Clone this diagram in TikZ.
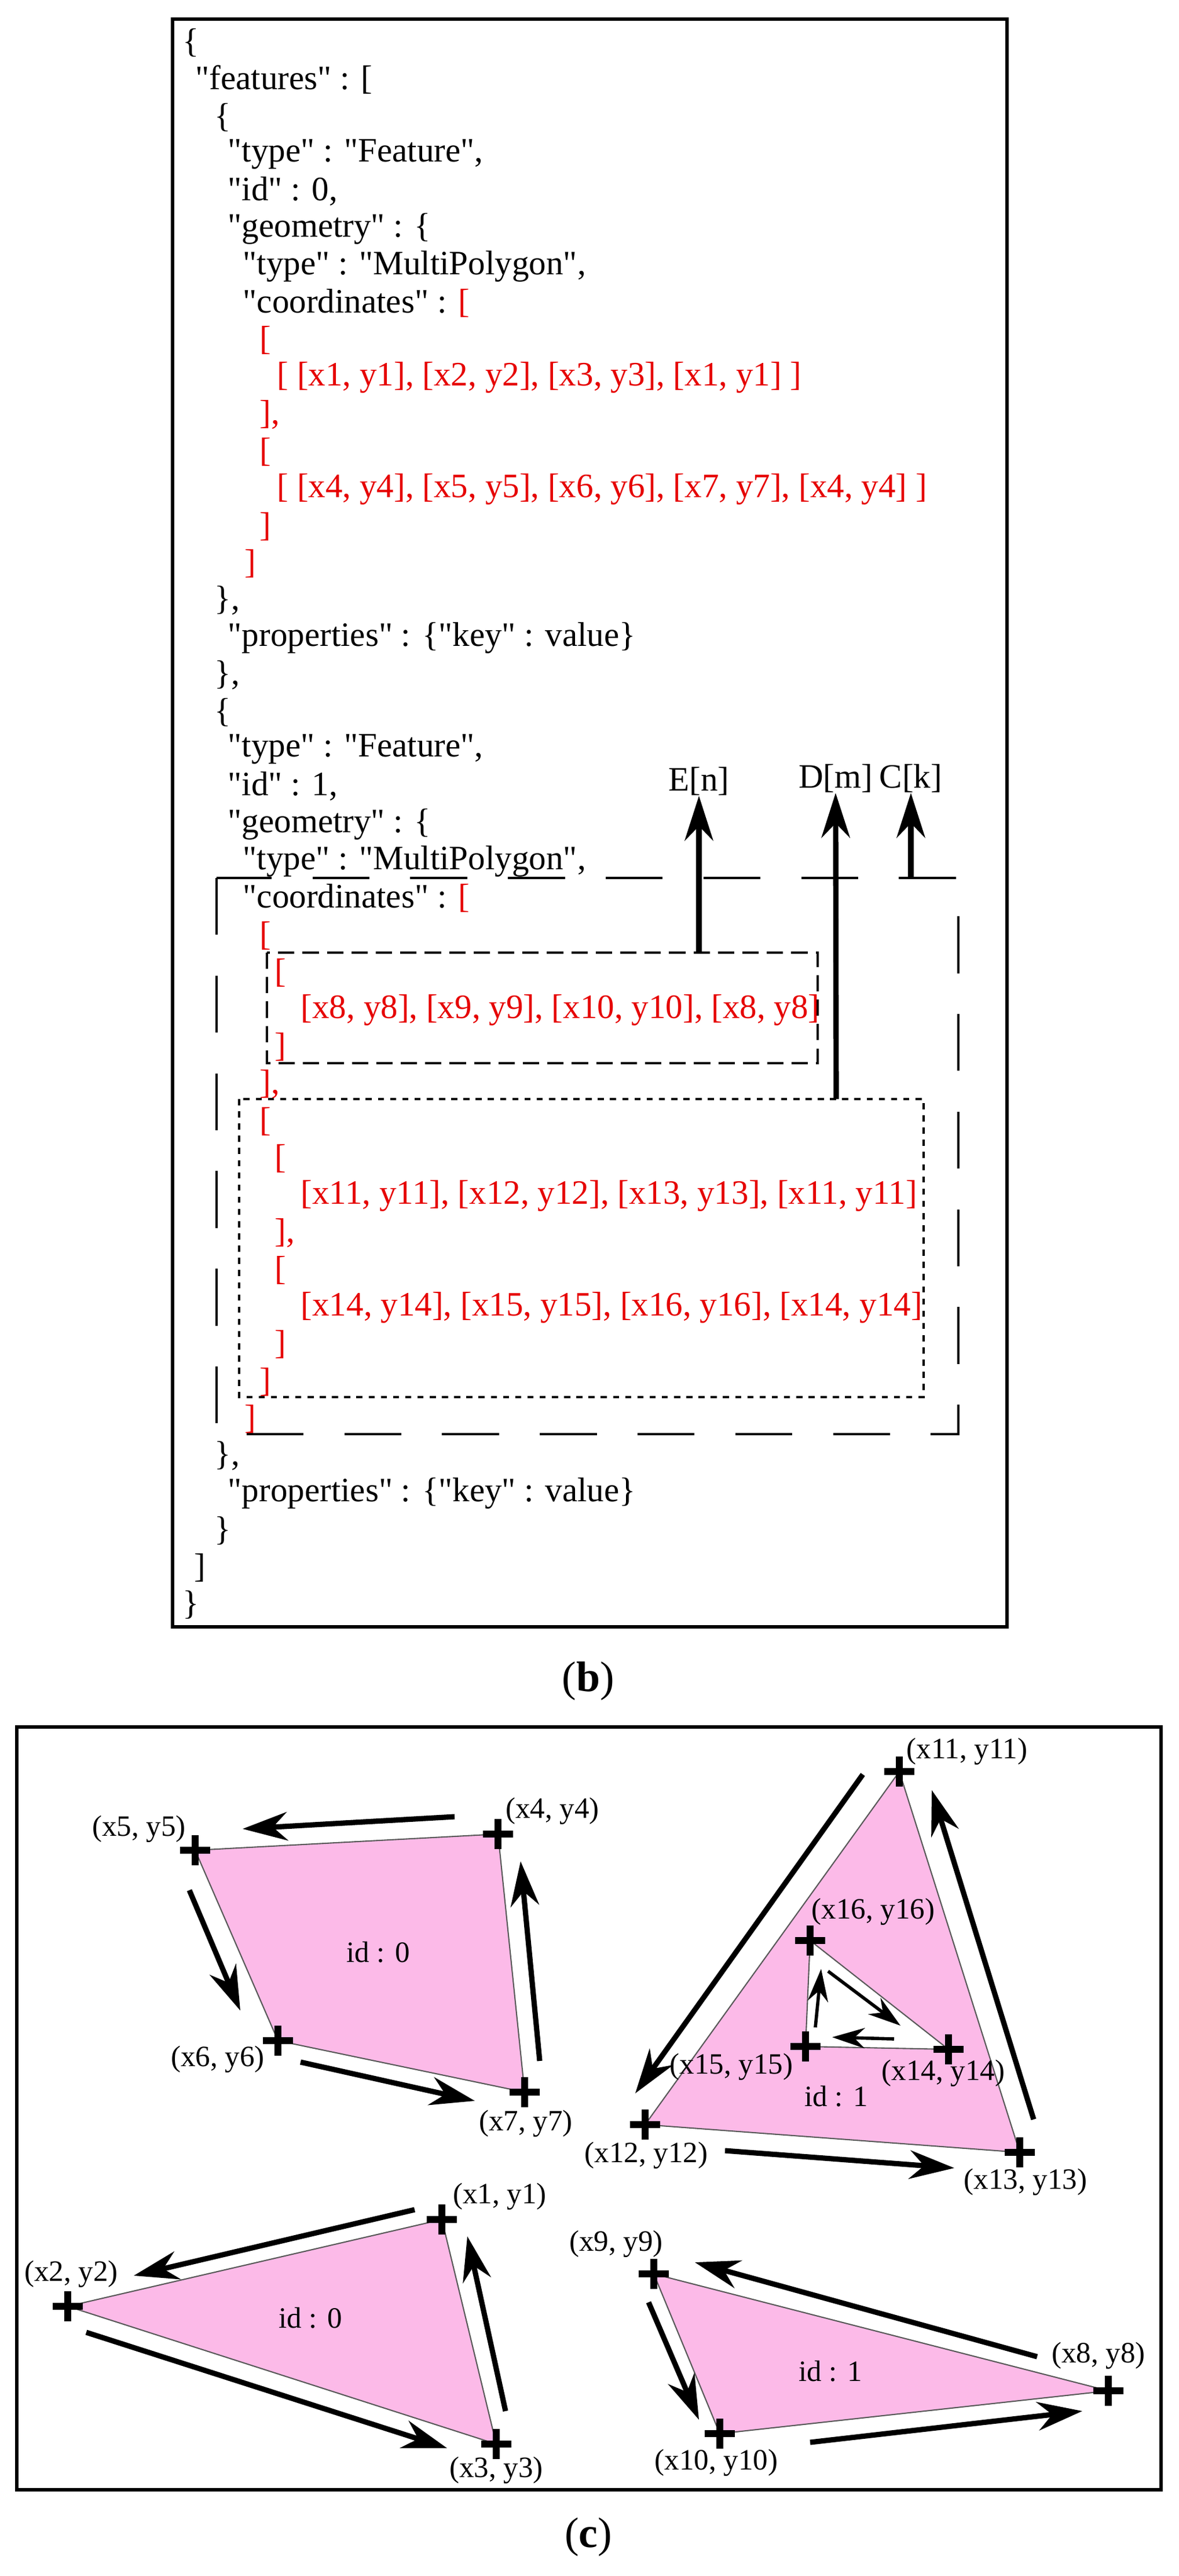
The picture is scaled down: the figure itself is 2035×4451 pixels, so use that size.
\documentclass[tikz,border=0pt]{standalone}
\usepackage{fontspec}
\setmainfont{Liberation Serif}
\newfontfamily\cf{Liberation Serif}
\usetikzlibrary{arrows.meta}
\definecolor{jred}{RGB}{230,0,0}
\definecolor{pinkf}{RGB}{252,186,232}
\begin{document}
\begin{tikzpicture}[x=0.01cm,y=-0.01cm,
  code/.style={anchor=west,inner sep=0pt,font=\cf\fontsize{16.8}{20}\selectfont},
  rc/.style={code,text=jred},
  lab/.style={inner sep=0pt,font=\cf\fontsize{14.5}{16}\selectfont},
  arr/.style={line width=2.6pt,-{Stealth[length=22pt,width=14pt]}},
  sarr/.style={line width=1.6pt,-{Stealth[length=16pt,width=10pt]}},
  poly/.style={fill=pinkf,draw=gray!70!black,line width=0.6pt},
  pt/.style={line width=3.2pt},
  figcap/.style={inner sep=0pt,font=\fontsize{21}{22}\selectfont}]
\useasboundingbox (0,0) rectangle (2035,4451);
% (b) box
\draw[line width=1.6pt] (298,33) rectangle (1739,2811);
\node[code] (l0) at (315,74) {\{};
\node[code] (l1) at (337,138) {"features" : [};
\node[code] (l2) at (370,203) {\{};
\node[code] (l3) at (393,267) {"type" : "Feature",};
\node[code] (l4) at (393,331) {"id" : 0,};
\node[code] (l5) at (393,395) {"geometry" : \{};
\node[code] (l6) at (419,460) {"type" : "MultiPolygon",};
\node[code] (l7) at (419,524) {"coordinates" : \textcolor{jred}{[}};
\node[rc] (l8) at (448,588) {[};
\node[rc] (l9) at (478,652) {[ [x1, y1], [x2, y2], [x3, y3], [x1, y1] ]};
\node[rc] (l10) at (448,717) {],};
\node[rc] (l11) at (448,781) {[};
\node[rc] (l12) at (478,845) {[ [x4, y4], [x5, y5], [x6, y6], [x7, y7], [x4, y4] ]};
\node[rc] (l13) at (448,910) {]};
\node[rc] (l14) at (422,974) {]};
\node[code] (l15) at (370,1038) {\},};
\node[code] (l16) at (393,1102) {"properties" : \{"key" : value\}};
\node[code] (l17) at (370,1167) {\},};
\node[code] (l18) at (370,1231) {\{};
\node[code] (l19) at (393,1295) {"type" : "Feature",};
\node[code] (l20) at (393,1359) {"id" : 1,};
\node[code] (l21) at (393,1424) {"geometry" : \{};
\node[code] (l22) at (419,1488) {"type" : "MultiPolygon",};
\node[code] (l23) at (419,1552) {"coordinates" : \textcolor{jred}{[}};
\node[rc] (l24) at (448,1617) {[};
\node[rc] (l25) at (474,1681) {[};
\node[rc] (l26) at (519,1745) {[x8, y8], [x9, y9], [x10, y10], [x8, y8]};
\node[rc] (l27) at (474,1809) {]};
\node[rc] (l28) at (448,1874) {],};
\node[rc] (l29) at (448,1938) {[};
\node[rc] (l30) at (474,2002) {[};
\node[rc] (l31) at (519,2066) {[x11, y11], [x12, y12], [x13, y13], [x11, y11]};
\node[rc] (l32) at (474,2131) {],};
\node[rc] (l33) at (474,2195) {[};
\node[rc] (l34) at (519,2259) {[x14, y14], [x15, y15], [x16, y16], [x14, y14]};
\node[rc] (l35) at (474,2323) {]};
\node[rc] (l36) at (448,2388) {]};
\node[rc] (l37) at (422,2452) {]};
\node[code] (l38) at (370,2516) {\},};
\node[code] (l39) at (393,2580) {"properties" : \{"key" : value\}};
\node[code] (l40) at (370,2645) {\}};
\node[code] (l41) at (335,2709) {]};
\node[code] (l42) at (315,2773) {\}};
% dashed boxes
\draw[line width=1.3pt,dash pattern=on 28pt off 20pt] (374,1517) rectangle (1655,2478);
\draw[line width=1.1pt,dash pattern=on 8pt off 4pt] (461,1646) rectangle (1412,1837);
\draw[line width=1.1pt,dash pattern=on 3pt off 3pt] (413,1899) rectangle (1595,2414);
\node[code,anchor=center] (E) at (1207,1350) {E[n]};
\node[code,anchor=center] (D) at (1443,1345) {D[m]};
\node[code,anchor=center] (C) at (1573,1345) {C[k]};
\coordinate (e0) at (1207,1646);
\coordinate (d0) at (1444,1899);
\coordinate (c0) at (1573,1517);
\draw[arr] (e0) -- (E.south);
\draw[arr] (d0) -- (D.south);
\draw[arr] (c0) -- (C.south);
\node[figcap] (capb) at (1016,2905) {(\textbf{b})};
% (c)
\draw[line width=1.6pt] (29,2984) rectangle (2005,4302);
\node[figcap] (capc) at (1016,4384) {(\textbf{c})};
\coordinate (p1) at (763,3835);
\coordinate (p2) at (117,3985);
\coordinate (p3) at (857,4223);
\coordinate (p4) at (860,3169);
\coordinate (p5) at (337,3197);
\coordinate (p6) at (480,3526);
\coordinate (p7) at (906,3615);
\coordinate (p8) at (1914,4131);
\coordinate (p9) at (1129,3929);
\coordinate (p10) at (1243,4205);
\coordinate (p11) at (1553,3061);
\coordinate (p12) at (1114,3671);
\coordinate (p13) at (1761,3719);
\coordinate (p14) at (1638,3541);
\coordinate (p15) at (1391,3536);
\coordinate (p16) at (1399,3353);
\draw[poly] (p1) -- (p2) -- (p3) -- cycle;
\draw[poly] (p4) -- (p5) -- (p6) -- (p7) -- cycle;
\draw[poly] (p8) -- (p9) -- (p10) -- cycle;
\draw[poly] (p11) -- (p12) -- (p13) -- cycle;
\draw[fill=white,draw=gray!70!black,line width=0.6pt] (p14) -- (p15) -- (p16) -- cycle;
\foreach \p in {1,...,16}{
  \draw[pt] ([xshift=-0.26cm]p\p) -- ([xshift=0.26cm]p\p);
  \draw[pt] ([yshift=-0.26cm]p\p) -- ([yshift=0.26cm]p\p);
}
\node[lab] (t1) at (863,3795) {(x1, y1)};
\node[lab] (t2) at (123,3929) {(x2, y2)};
\node[lab] (t3) at (857,4268) {(x3, y3)};
\node[lab] (t4) at (954,3129) {(x4, y4)};
\node[lab] (t5) at (240,3160) {(x5, y5)};
\node[lab] (t6) at (376,3558) {(x6, y6)};
\node[lab] (t7) at (908,3669) {(x7, y7)};
\node[lab] (t8) at (1897,4070) {(x8, y8)};
\node[lab] (t9) at (1064,3877) {(x9, y9)};
\node[lab] (t10) at (1237,4255) {(x10, y10)};
\node[lab] (t11) at (1670,3026) {(x11, y11)};
\node[lab] (t12) at (1116,3724) {(x12, y12)};
\node[lab] (t13) at (1771,3770) {(x13, y13)};
\node[lab] (t14) at (1629,3582) {(x14, y14)};
\node[lab] (t15) at (1263,3571) {(x15, y15)};
\node[lab] (t16) at (1508,3303) {(x16, y16)};
\node[lab] (i0a) at (653,3373) {id : 0};
\node[lab] (i0b) at (536,4005) {id : 0};
\node[lab] (i1a) at (1444,3622) {id : 1};
\node[lab] (i1b) at (1434,4097) {id : 1};
% arrows
\coordinate (a1s) at (785,3139); \coordinate (a1e) at (419,3160);
\coordinate (a2s) at (327,3266); \coordinate (a2e) at (415,3474);
\coordinate (a3s) at (519,3563); \coordinate (a3e) at (820,3630);
\coordinate (a4s) at (932,3561); \coordinate (a4e) at (899,3216);
\coordinate (a5s) at (1490,3066); \coordinate (a5e) at (1097,3617);
\coordinate (a6s) at (1252,3716); \coordinate (a6e) at (1648,3746);
\coordinate (a7s) at (1785,3662); \coordinate (a7e) at (1609,3093);
\coordinate (a8s) at (1408,3503); \coordinate (a8e) at (1418,3402);
\coordinate (a9s) at (1430,3406); \coordinate (a9e) at (1555,3500);
\coordinate (a10s) at (1544,3523); \coordinate (a10e) at (1437,3520);
\coordinate (a11s) at (716,3818); \coordinate (a11e) at (231,3932);
\coordinate (a12s) at (149,4030); \coordinate (a12e) at (772,4230);
\coordinate (a13s) at (873,4166); \coordinate (a13e) at (807,3864);
\coordinate (a14s) at (1791,4072); \coordinate (a14e) at (1200,3909);
\coordinate (a15s) at (1120,3978); \coordinate (a15e) at (1207,4181);
\coordinate (a16s) at (1399,4220); \coordinate (a16e) at (1869,4166);
\foreach \a in {1,2,3,4,5,6,7,11,12,13,14,15,16}{
  \draw[arr] (a\a s) -- (a\a e);
}
\foreach \a in {8,9,10}{
  \draw[sarr] (a\a s) -- (a\a e);
}
\end{tikzpicture}
\end{document}
